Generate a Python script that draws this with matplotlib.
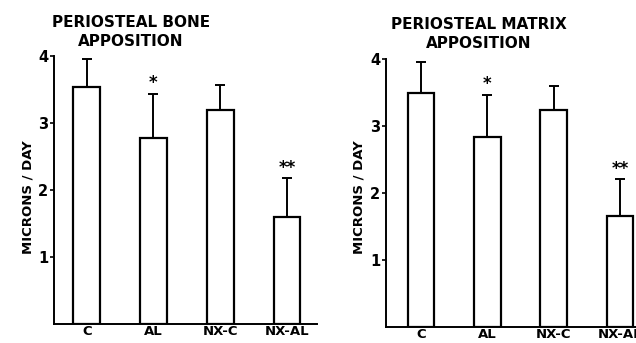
import numpy as np
import matplotlib
matplotlib.use("Agg")
import matplotlib.pyplot as plt

# =========================
# DATA
# =========================
groups = ["C", "AL", "NX-C", "NX-AL"]
stars = ["", "*", "", "**"]

bone_means = [3.53, 2.78, 3.19, 1.60]
bone_err = [0.42, 0.66, 0.38, 0.58]

matrix_means = [3.50, 2.84, 3.24, 1.66]
matrix_err = [0.45, 0.63, 0.36, 0.55]

titles = ["PERIOSTEAL BONE\nAPPOSITION", "PERIOSTEAL MATRIX\nAPPOSITION"]
ylabel = "MICRONS / DAY"

# =========================
# FIGURE
# =========================
W, H = 636, 343
fig = plt.figure(figsize=(W / 100, H / 100), dpi=100)
plt.rcParams["font.family"] = ["DejaVu Sans"]


def px_axes(left, top, bottom, width):
    return fig.add_axes([left / W, (H - bottom) / H, width / W, (bottom - top) / H])


def draw_panel(ax, means, err, xlim):
    x = np.arange(len(groups))
    ax.bar(x, means, width=0.40, color="white", edgecolor="black",
           linewidth=1.6, zorder=2)
    ax.errorbar(x, means, yerr=[np.zeros(len(err)), err], fmt="none",
                ecolor="black", elinewidth=1.4, capsize=3.5, capthick=1.4,
                zorder=1)
    for xi, m, e, s in zip(x, means, err, stars):
        if s:
            ax.text(xi, m + e + 0.02, s, ha="center", va="bottom",
                    fontsize=12, fontweight="bold")
    ax.set_xlim(*xlim)
    ax.set_ylim(0, 4)
    ax.set_xticks(x)
    ax.set_xticklabels(groups, fontsize=9.5, fontweight="bold")
    ax.tick_params(axis="x", length=0, pad=1)
    ax.set_yticks([1, 2, 3, 4])
    ax.set_yticklabels(["1", "2", "3", "4"], fontsize=10.5, fontweight="bold")
    ax.tick_params(axis="y", direction="out", length=3, width=1.2, pad=1)
    for sp in ["top", "right"]:
        ax.spines[sp].set_visible(False)
    ax.spines["left"].set_linewidth(1.4)
    ax.spines["bottom"].set_linewidth(1.4)
    ax.set_facecolor("none")


ax1 = px_axes(54, 56, 324, 263)
draw_panel(ax1, bone_means, bone_err, (-0.49, 3.45))

ax2 = px_axes(386, 59, 327, 263)
draw_panel(ax2, matrix_means, matrix_err, (-0.53, 3.44))

# titles and y labels
fig.text(131 / W, 1 - 32 / H, titles[0], ha="center", va="center",
         fontsize=11, fontweight="bold", linespacing=1.35)
fig.text(479 / W, 1 - 34 / H, titles[1], ha="center", va="center",
         fontsize=11, fontweight="bold", linespacing=1.35)
fig.text(28 / W, 1 - 197 / H, ylabel, rotation=90, ha="center", va="center",
         fontsize=9.5, fontweight="bold")
fig.text(359 / W, 1 - 197 / H, ylabel, rotation=90, ha="center", va="center",
         fontsize=9.5, fontweight="bold")

fig.savefig("out.png", dpi=100, facecolor="white")
